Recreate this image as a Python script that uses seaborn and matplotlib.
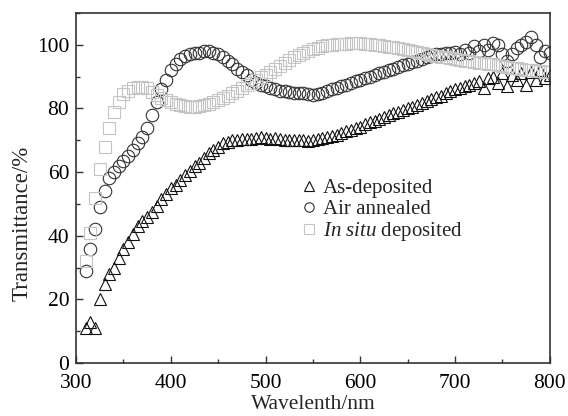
import matplotlib
matplotlib.use("Agg")
import matplotlib.pyplot as plt
import seaborn as sns
from matplotlib.ticker import MultipleLocator

sns.set_theme(style="ticks")
plt.rcParams['font.family'] = ['Liberation Serif', 'DejaVu Serif']
plt.rcParams['mathtext.fontset'] = 'custom'
plt.rcParams['mathtext.it'] = 'Liberation Serif:italic'
plt.rcParams['mathtext.rm'] = 'Liberation Serif'

# Wavelength grid (nm)
wavelength = list(range(310, 805, 5))

as_deposited = [
    11, 13, 11, 20, 25, 28, 30, 33, 36, 38,
    40.5, 43, 44.5, 46, 47.5, 49.5, 51.5, 53, 55, 56,
    57.5, 59, 60.5, 62, 63, 64.5, 66, 67, 68, 69,
    69.5, 70, 70, 70.3, 70.5, 70.5, 70.8, 71, 70.8, 70.5,
    70.6, 70.4, 70.2, 70.2, 70, 70.2, 70, 69.8, 70, 70.3,
    70.6, 71, 71.3, 71.8, 72.3, 72.8, 73.2, 73.8, 74.3, 75,
    75.6, 76.2, 76.8, 77.4, 78, 78.5, 79, 79.5, 80, 80.6,
    81.2, 81.8, 82.4, 83, 83.5, 84, 84.8, 85.5, 86, 86.5,
    87, 87.5, 88, 88.5, 86.5, 89.5, 90, 88, 91, 87,
    90.5, 89, 91, 87.5, 91.5, 89, 92, 89.5, 90.5,
]

air_annealed = [
    29, 36, 42, 49, 54, 58, 60, 62, 63.5, 65,
    67, 69, 71, 74, 78, 82, 86, 89, 92, 94,
    95.5, 96.5, 97, 97.5, 97.5, 98, 98, 97.5, 97, 96,
    95, 94, 92.5, 91.5, 90.5, 89, 88, 87.5, 87, 86.5,
    86, 85.5, 85.5, 85.2, 85, 85, 84.7, 84.5, 84.2, 84.5,
    85, 85.5, 86, 86.5, 87, 87.5, 88, 88.5, 89, 89.5,
    90, 90.5, 91, 91.5, 92, 92.5, 93, 93.5, 94, 94.5,
    95, 95.5, 96, 96.5, 97, 97, 97.5, 97.5, 97.8, 97,
    98.5, 97.5, 99.5, 98, 100, 98.5, 100.5, 100, 97, 95,
    97, 99, 100, 101, 102.5, 100, 96, 98, 97.5,
]

in_situ = [
    32, 41, 52, 61, 68, 74, 79, 82, 84.5, 85.5,
    86.3, 86.8, 86.8, 86.3, 85.3, 84.3, 83.3, 82.5, 82, 81.4,
    81, 80.7, 80.5, 80.5, 80.7, 81, 81.5, 82, 82.6, 83.3,
    84, 84.8, 85.5, 86.3, 87.2, 88, 89, 89.8, 90.6, 91.5,
    92.5, 93.4, 94.3, 95.1, 96, 96.7, 97.4, 98, 98.6, 99.1,
    99.5, 99.8, 100, 100.1, 100.2, 100.3, 100.4, 100.4, 100.4, 100.3,
    100.2, 100, 99.8, 99.6, 99.4, 99.2, 99, 98.7, 98.4, 98.1,
    97.8, 97.5, 97.2, 96.9, 96.6, 96.3, 96, 95.7, 95.5, 95.2,
    95, 94.8, 94.6, 94.4, 94.2, 94, 93.8, 93.5, 93.2, 93,
    92.8, 92.6, 92.4, 92.2, 92, 91.8, 91.7, 91.5, 91.4,
]

fig = plt.figure(figsize=(5.68, 4.16), dpi=100)
ax = fig.add_axes([0.134, 0.127, 0.834, 0.842])

common = dict(linestyle='', markerfacecolor='none', markersize=9, markeredgewidth=0.8)
sns.lineplot(x=wavelength, y=as_deposited, marker='^', markeredgecolor='#111111',
             label='As-deposited', ax=ax, **common)
sns.lineplot(x=wavelength, y=air_annealed, marker='o', markeredgecolor='#333333',
             label='Air annealed', ax=ax, **common)
sns.lineplot(x=wavelength, y=in_situ, marker='s', markeredgecolor='#c4c4c4',
             label=r'$\it{In\ situ}$ deposited', ax=ax, **common)

ax.set_xlim(300, 800)
ax.set_ylim(0, 110)
ax.xaxis.set_major_locator(MultipleLocator(100))
ax.xaxis.set_minor_locator(MultipleLocator(50))
ax.yaxis.set_major_locator(MultipleLocator(20))
ax.yaxis.set_minor_locator(MultipleLocator(10))
ax.tick_params(which='both', direction='in', colors='#333333', labelcolor='black',
               labelsize=15.5, top=False, right=False)
ax.tick_params(which='major', length=5, width=1)
ax.tick_params(which='minor', length=3, width=1)
ax.tick_params(axis='x', which='major', pad=8)
ax.tick_params(axis='y', which='major', pad=5)
for s in ax.spines.values():
    s.set_color('#333333')
    s.set_linewidth(1.2)
ax.spines['top'].set_visible(True)
ax.spines['right'].set_visible(True)

ax.set_xlabel('Wavelenth/nm', fontsize=15.5, labelpad=1)
ax.set_ylabel('Transmittance/%', fontsize=16.5)
ax.yaxis.set_label_coords(-0.092, 0.40)

ax.legend(loc='upper left', bbox_to_anchor=(0.455, 0.55), frameon=False, fontsize=15,
          markerscale=0.75, handlelength=0.9, handletextpad=0.2, labelspacing=0.05,
          borderaxespad=0)

fig.savefig('out.png', dpi=100)
